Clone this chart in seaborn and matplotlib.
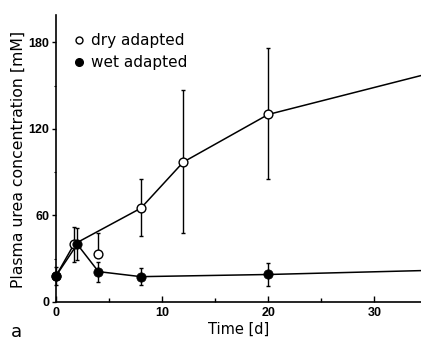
import numpy as np
import pandas as pd
import matplotlib
matplotlib.use("Agg")
import matplotlib.pyplot as plt
import seaborn as sns
from matplotlib.ticker import MultipleLocator
from matplotlib.lines import Line2D

# ---- data ----
dry_time = [0, 1.7, 4, 8, 12, 20]
dry_urea = [18, 40, 33, 65, 97, 130]
dry_err_low = [0, 12, 0, 19, 49, 45]
dry_err_high = [0, 12, 15, 20, 50, 46]
dry_line_time = [0, 1.7, 8, 12, 20, 36]
dry_line_urea = [18, 40, 65, 97, 130, 160]

wet_time = [0, 2, 4, 8, 20]
wet_urea = [18, 40, 21, 17.5, 19]
wet_err = [6, 11, 7, 6, 8]
wet_line_time = [0, 2, 4, 8, 20, 36]
wet_line_urea = [18, 40, 21, 17.5, 19, 22]

x_ticks = [0, 10, 20, 30]
y_ticks = [0, 60, 120, 180]

sns.set_style("ticks")
plt.rcParams['font.family'] = ['DejaVu Sans']
plt.rcParams['text.color'] = 'black'
plt.rcParams['axes.labelcolor'] = 'black'
plt.rcParams['xtick.color'] = 'black'
plt.rcParams['ytick.color'] = 'black'
plt.rcParams['axes.edgecolor'] = 'black'

fig = plt.figure(figsize=(4.21, 3.49), dpi=100)
ax = fig.add_axes([0.133, 0.135, 0.867, 0.822])

lw = 1.1
sns.lineplot(x=dry_line_time, y=dry_line_urea, ax=ax, color="black", lw=lw,
             sort=False, estimator=None)
sns.lineplot(x=wet_line_time, y=wet_line_urea, ax=ax, color="black", lw=lw,
             sort=False, estimator=None)

ax.errorbar(dry_time, dry_urea, yerr=[dry_err_low, dry_err_high], fmt="none",
            ecolor="black", elinewidth=1.0, capsize=1.5, capthick=1.0, clip_on=False)
ax.errorbar(wet_time, wet_urea, yerr=wet_err, fmt="none",
            ecolor="black", elinewidth=1.0, capsize=1.5, capthick=1.0, clip_on=False)

sns.scatterplot(x=dry_time, y=dry_urea, ax=ax, marker="o", s=40,
                facecolor="white", edgecolor="black", linewidth=1.0,
                zorder=5, clip_on=False)
sns.scatterplot(x=wet_time, y=wet_urea, ax=ax, marker="o", s=45,
                color="black", edgecolor="black", zorder=6, clip_on=False)

ax.set_xlim(0, 34.4)
ax.set_ylim(0, 199)
ax.set_xticks(x_ticks)
ax.set_yticks(y_ticks)
ax.xaxis.set_minor_locator(MultipleLocator(5))
ax.yaxis.set_minor_locator(MultipleLocator(30))
ax.tick_params(axis="x", which="major", direction="in", length=4, width=1.0,
               labelsize=9, pad=4)
ax.tick_params(axis="x", which="minor", direction="in", length=3, width=1.0)
ax.tick_params(axis="y", which="major", direction="out", length=3, width=1.0,
               labelsize=9, pad=2)
ax.tick_params(axis="y", which="minor", direction="out", length=1.5, width=0.8)
for lab in ax.get_xticklabels() + ax.get_yticklabels():
    lab.set_fontweight("bold")
    lab.set_family("Liberation Sans")

sns.despine(ax=ax)
for sp in ["left", "bottom"]:
    ax.spines[sp].set_linewidth(1.2)

ax.set_xlabel("Time [d]", fontsize=10.5, labelpad=2)
ax.set_ylabel("Plasma urea concentration [mM]", fontsize=11.3)
ax.yaxis.set_label_coords(-0.082, 0.495)

handles = [
    Line2D([], [], marker="o", ls="none", mfc="white", mec="black", ms=5, mew=1),
    Line2D([], [], marker="o", ls="none", mfc="black", mec="black", ms=5.5),
]
ax.legend(handles, ["dry adapted", "wet adapted"], loc="upper left",
          bbox_to_anchor=(0.025, 0.957), frameon=False, fontsize=11,
          handletextpad=0.3, handlelength=1.0, labelspacing=0.45,
          borderaxespad=0.0)

fig.text(0.025, 0.035, "a", fontsize=13)

fig.savefig("out.png", dpi=100)
